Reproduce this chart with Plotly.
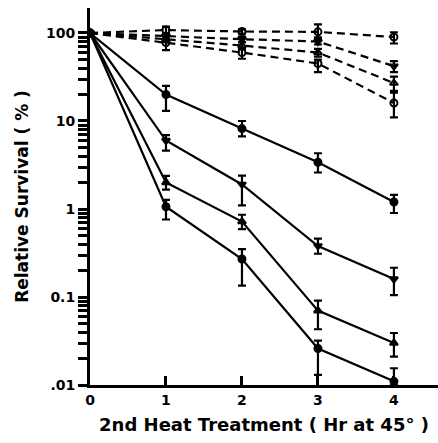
import plotly.graph_objects as go

# Time of the second heat treatment (hours at 45 degrees)
hours = [0, 1, 2, 3, 4]

# Dashed curves (open / light symbols)
dash_a = [100, 108, 104, 103, 90]
dash_a_up = [None, 10, 6, 22, 12]
dash_a_dn = [None, 8, 6, 14, 14]

dash_b = [100, 92, 85, 80, 42]
dash_b_up = [None, 6, 6, 6, 6]
dash_b_dn = [None, 6, 6, 6, 6]

dash_c = [100, 85, 72, 60, 27]
dash_c_up = [None, 6, 6, 6, 5]
dash_c_dn = [None, 6, 6, 6, 5]

dash_d = [100, 78, 60, 45, 16]
dash_d_up = [None, 6, 5, 5, 5]
dash_d_dn = [None, 14, 9, 9, 5]

# Solid curves (filled symbols)
solid_a = [100, 20, 8.2, 3.4, 1.2]
solid_a_up = [None, 5, 1.8, 0.9, 0.25]
solid_a_dn = [None, 7, 1.5, 0.8, 0.3]

solid_b = [100, 6, 1.9, 0.38, 0.16]
solid_b_up = [None, 0.9, 0.5, 0.08, 0.055]
solid_b_dn = [None, 1.4, 0.8, 0.07, 0.055]

solid_c = [100, 2.0, 0.72, 0.07, 0.03]
solid_c_up = [None, 0.38, 0.14, 0.021, 0.009]
solid_c_dn = [None, 0.34, 0.13, 0.027, 0.009]

solid_d = [100, 1.06, 0.27, 0.026, 0.011]
solid_d_up = [None, 0.21, 0.08, 0.006, 0.0045]
solid_d_dn = [None, 0.3, 0.135, 0.013, 0.001]

y_tick_vals = [0.01, 0.1, 1, 10, 100]
y_tick_text = [".01", "0.1", "1", "10", "100"]
y_minor_vals = [m * d for d in [0.01, 0.1, 1, 10, 100] for m in range(2, 10)]
x_tick_vals = [0, 1, 2, 3, 4]
x_tick_text = ["0", "1", "2", "3", "4"]

series = [
    (dash_a, dash_a_up, dash_a_dn, "circle-open", "dash"),
    (dash_b, dash_b_up, dash_b_dn, "triangle-down", "dash"),
    (dash_c, dash_c_up, dash_c_dn, "triangle-up-open", "dash"),
    (dash_d, dash_d_up, dash_d_dn, "circle-open", "dash"),
    (solid_a, solid_a_up, solid_a_dn, "circle", "solid"),
    (solid_b, solid_b_up, solid_b_dn, "triangle-down", "solid"),
    (solid_c, solid_c_up, solid_c_dn, "triangle-up", "solid"),
    (solid_d, solid_d_up, solid_d_dn, "circle", "solid"),
]

fig = go.Figure()
for vals, up, dn, sym, dash in series:
    fig.add_trace(go.Scatter(
        x=hours, y=vals, mode="lines+markers",
        line=dict(color="black", width=2.2, dash="8px,5px" if dash == "dash" else "solid"),
        marker=dict(symbol=sym, size=7, color="black",
                    line=dict(color="black", width=2)),
        error_y=dict(type="data", symmetric=False, array=up, arrayminus=dn,
                     color="black", thickness=2.2, width=4),
        showlegend=False,
    ))

font_family = "DejaVu Sans, Liberation Sans, sans-serif"

# Major ticks carry labels; the 2..9 positions of each decade are unlabelled ticks
all_y_ticks = y_tick_vals + y_minor_vals
all_y_text = y_tick_text + [""] * len(y_minor_vals)

fig.update_layout(
    width=438, height=443,
    margin=dict(l=90, r=0, t=8, b=58),
    paper_bgcolor="white", plot_bgcolor="white",
    font=dict(family=font_family, color="black", size=14),
    xaxis=dict(
        range=[0, 4.58], tickvals=x_tick_vals, ticktext=x_tick_text,
        ticks="inside", ticklen=9, tickwidth=2.5, tickcolor="black",
        showline=True, linecolor="black", linewidth=3,
        tickfont=dict(family=font_family, size=14, weight="bold"),
        title=dict(text="2nd Heat Treatment ( Hr at 45° )", standoff=12,
                   font=dict(family=font_family, size=18, weight="bold")),
    ),
    yaxis=dict(
        type="log", range=[-2, 2.284], tickvals=all_y_ticks, ticktext=all_y_text,
        ticks="outside", ticklen=9, tickwidth=2.5, tickcolor="black",
        showline=True, linecolor="black", linewidth=3,
        tickfont=dict(family=font_family, size=14, weight="bold"),
        title=dict(text="Relative Survival ( % )", standoff=14,
                   font=dict(family=font_family, size=17, weight="bold")),
    ),
)
fig.update_xaxes(showgrid=False, zeroline=False)
fig.update_yaxes(showgrid=False, zeroline=False)

fig.write_html("out.html")
